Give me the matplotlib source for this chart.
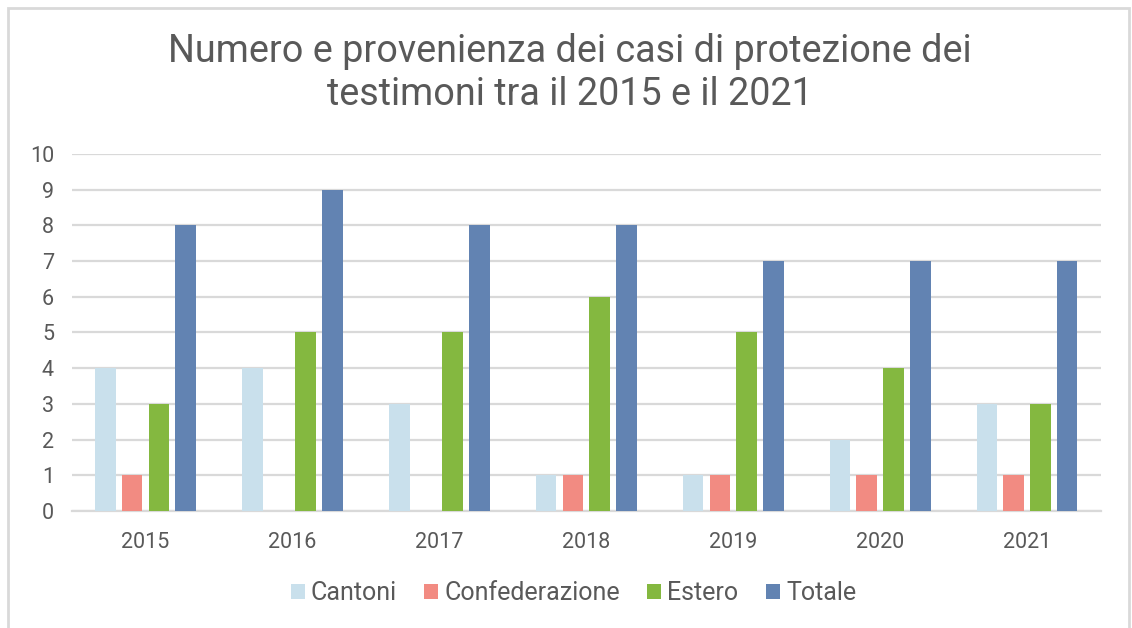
import numpy as np
import matplotlib
matplotlib.use('Agg')
import matplotlib.pyplot as plt
from matplotlib.patches import Rectangle

plt.rcParams['font.family'] = ['Roboto', 'DejaVu Sans']

# Data
years = ['2015', '2016', '2017', '2018', '2019', '2020', '2021']
cantoni = [4, 4, 3, 1, 1, 2, 3]
confederazione = [1, 0, 0, 1, 1, 1, 1]
estero = [3, 5, 5, 6, 5, 4, 3]
totale = [8, 9, 8, 8, 7, 7, 7]

series_names = ['Cantoni', 'Confederazione', 'Estero', 'Totale']
series_values = [cantoni, confederazione, estero, totale]
colors = ['#c9e0ec', '#f28b82', '#84b840', '#6283b2']
text_col = '#595959'

fig = plt.figure(figsize=(11.32, 6.28), dpi=100)
ax = fig.add_axes([0.0636, 0.1863, 0.9086, 0.5685])

x = np.arange(len(years))
stride = 0.182
width = 0.14
for i, (name, vals, c) in enumerate(zip(series_names, series_values, colors)):
    ax.bar(x + (i - 1.5) * stride, vals, width, color=c, label=name, zorder=3)

ax.set_xlim(-0.5, len(years) - 0.5)
ax.set_ylim(0, 10)
ax.set_yticks(range(0, 11))
ax.set_xticks(x)
ax.set_xticklabels(years)
ax.yaxis.grid(True, color='#d9d9d9', linewidth=1.6, zorder=0)
ax.set_axisbelow(True)
for s in ['top', 'right', 'left']:
    ax.spines[s].set_visible(False)
ax.spines['bottom'].set_color('#d9d9d9')
ax.spines['bottom'].set_linewidth(1.6)
ax.tick_params(axis='both', length=0, labelsize=15.5, colors=text_col)
ax.tick_params(axis='y', pad=13)
ax.tick_params(axis='x', pad=15)

fig.text(0.5035, 0.884, 'Numero e provenienza dei casi di protezione dei\ntestimoni tra il 2015 e il 2021',
         ha='center', va='center', fontsize=27.2, color=text_col, linespacing=1.22)

leg = fig.legend(loc='center', bbox_to_anchor=(0.5066, 0.055), ncol=4, frameon=False,
                 fontsize=18, handlelength=0.56, handleheight=0.56, handletextpad=0.24,
                 columnspacing=1.1, borderpad=0, borderaxespad=0)
for t in leg.get_texts():
    t.set_color(text_col)

# outer border of the chart
fig.patches.append(Rectangle((8 / 1132, -0.05), 1121 / 1132, 1 - 7.5 / 628 + 0.05,
                             transform=fig.transFigure, fill=False,
                             edgecolor='#d9d9d9', linewidth=2))

fig.savefig('out.png', dpi=100)
